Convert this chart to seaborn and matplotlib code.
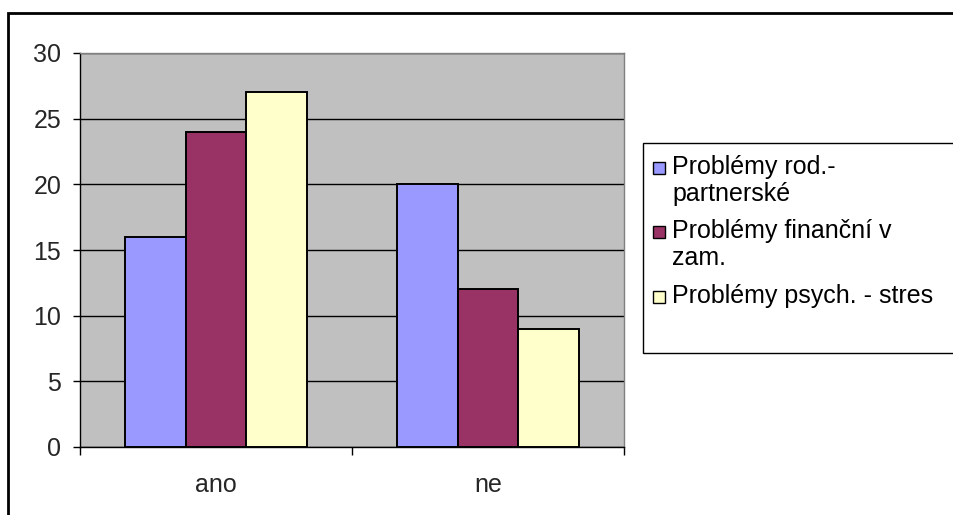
import matplotlib
matplotlib.use("Agg")
import matplotlib.pyplot as plt
from matplotlib.patches import Rectangle
import pandas as pd
import seaborn as sns

# Data
odpovedi = ["ano", "ne"]
problemy = ["Problémy rod.-\npartnerské", "Problémy finanční v\nzam.", "Problémy psych. - stres"]
rod_partnerske = [16, 20]
financni = [24, 12]
psych_stres = [27, 9]
barvy = ["#9999FF", "#993366", "#FFFFCC"]
y_ticks = [0, 5, 10, 15, 20, 25, 30]

df = pd.DataFrame({
    "odpoved": odpovedi * 3,
    "problem": [problemy[0]] * 2 + [problemy[1]] * 2 + [problemy[2]] * 2,
    "pocet": rod_partnerske + financni + psych_stres,
})

sns.set_theme(style="white")
plt.rcParams["font.family"] = ["Liberation Sans", "DejaVu Sans"]

FS = 18
W, H = 954, 515
fig = plt.figure(figsize=(W / 100, H / 100), dpi=100)
fig.patch.set_facecolor("white")

def fx(px):
    return px / W

def fy(py):
    return 1 - py / H

# Outer chart frame
fig.add_artist(Rectangle((fx(8), fy(530)), fx(1000) - fx(8), fy(13) - fy(530),
                         transform=fig.transFigure, fill=False, edgecolor="black", linewidth=2))

ax = fig.add_axes([fx(80), fy(447), fx(624) - fx(80), fy(53) - fy(447)])
ax.set_facecolor("#C0C0C0")

sns.barplot(data=df, x="odpoved", y="pocet", hue="problem", hue_order=problemy,
            order=odpovedi, palette=barvy, width=0.67, edgecolor="black",
            linewidth=1.4, saturation=1, legend=False, ax=ax, zorder=3)

ax.set_xlim(-0.5, 1.5)
ax.set_ylim(0, 30)
ax.set_yticks(y_ticks)
ax.yaxis.grid(True, color="black", linewidth=1, zorder=0)
ax.set_axisbelow(True)
ax.set_xlabel("")
ax.set_ylabel("")

# Category labels without tick marks, tick marks at group boundaries
ax.set_xticks([0, 1])
ax.set_xticklabels(odpovedi)
ax.tick_params(axis="x", which="major", length=0, pad=19, labelsize=FS)
ax.set_xticks([-0.5, 0.5, 1.5], minor=True)
ax.tick_params(axis="x", which="minor", length=6, width=1, color="black", direction="out", bottom=True)
ax.tick_params(axis="y", length=5, width=1, color="black", direction="out", left=True,
               pad=8.5, labelsize=FS)

for s in ["top", "right"]:
    ax.spines[s].set_color("#808080")
    ax.spines[s].set_linewidth(1)
for s in ["left", "bottom"]:
    ax.spines[s].set_color("black")
    ax.spines[s].set_linewidth(1)

# Legend box
fig.add_artist(Rectangle((fx(643), fy(353)), fx(1000) - fx(643), fy(143) - fy(353),
                         transform=fig.transFigure, facecolor="white", edgecolor="black",
                         linewidth=1))
entry_y = [167, 231, 296]
line_gap = 27
for label, col, y0 in zip(problemy, barvy, entry_y):
    fig.add_artist(Rectangle((fx(653), fy(y0 + 7)), fx(12), fy(0) - fy(12),
                             transform=fig.transFigure, facecolor=col, edgecolor="black",
                             linewidth=1))
    for i, line in enumerate(label.split("\n")):
        fig.text(fx(672), fy(y0 + i * line_gap), line, fontsize=FS, va="center",
                 ha="left", color="black")

fig.savefig("out.png", dpi=100)
